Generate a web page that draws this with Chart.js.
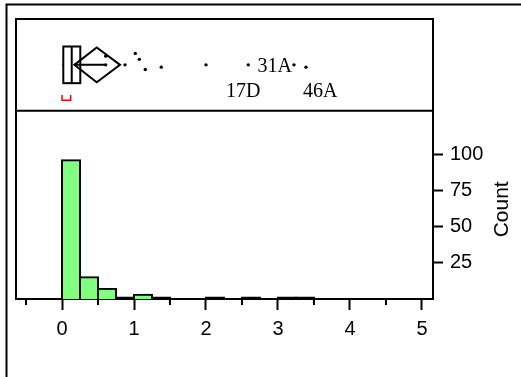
<!DOCTYPE html>
<html>
<head>
<meta charset="utf-8">
<script src="https://cdn.jsdelivr.net/npm/chart.js@4.4.0/dist/chart.umd.min.js"></script>
<style>
  body { margin: 0; background: #fff; }
  canvas { display: block; }
</style>
</head>
<body>
<canvas id="distChart" width="521" height="377"></canvas>
<script>
// histogram: lower edge of each bin (width 0.25) and its count
var binStarts = [0, 0.25, 0.5, 0.75, 1, 1.25, 1.5, 1.75, 2, 2.25, 2.5, 2.75, 3, 3.25];
var binCounts = [96, 15, 7, 1, 3, 1, 0, 0, 1, 0, 1, 0, 1, 1];
var binWidth = 0.25;

// outlier box plot summary
var boxStats = { min: 0.004, q1: 0.018, median: 0.135, q3: 0.254, whiskerHi: 0.607 };
var meanDiamond = { lo: 0.171, mean: 0.482, hi: 0.806 };
var shortestHalf = [0, 0.12];

// single points beyond the box, vertical jitter, row labels
var pointValues = [0.607, 0.607, 0.875, 1.018, 1.074, 1.157, 1.379, 2.0, 2.587, 3.222, 3.389];
var pointJitter = [0.19, 0, 0, 0.25, 0.12, -0.1, -0.05, 0, 0, 0, -0.05];
var pointLabels = ['', '', '', '', '', '', '', '', '17D', '31A', '46A'];

var xTicks = [0, 1, 2, 3, 4, 5];
var xMinorTicks = [-0.5, 0.5, 1.5, 2.5, 3.5, 4.5];
var countTicks = [25, 50, 75, 100];

//////////// label placement next to its point: [align, dx, dy]
var labelPlace = { '17D': ['center', -5, 32.5], '31A': ['right', -2, 7.5], '46A': ['left', -3, 30] };

var jmpDecor = {
  id: 'jmpDecor',
  afterDatasetsDraw: function (chart) {
    var ctx = chart.ctx, a = chart.chartArea;
    var xs = chart.scales.x, yb = chart.scales.yb, yc = chart.scales.y;
    var px = function (v) { return xs.getPixelForValue(v); };
    var py = function (v) { return yb.getPixelForValue(v); };
    ctx.save();
    ctx.strokeStyle = '#000';
    ctx.lineWidth = 2;

    // outer frame
    ctx.beginPath();
    ctx.moveTo(6.5, chart.height); ctx.lineTo(6.5, 4.5); ctx.lineTo(chart.width, 4.5);
    ctx.stroke();

    // plot frame + divider
    ctx.beginPath();
    ctx.moveTo(a.left, a.bottom); ctx.lineTo(a.left, a.top); ctx.lineTo(a.right, a.top);
    ctx.moveTo(a.left, py(-1)); ctx.lineTo(a.right, py(-1));
    ctx.stroke();

    // minor ticks
    ctx.beginPath();
    xMinorTicks.forEach(function (v) {
      ctx.moveTo(px(v), a.bottom); ctx.lineTo(px(v), a.bottom + 6);
    });
    ctx.stroke();

    // box
    ctx.strokeRect(px(boxStats.q1), py(0.4), px(boxStats.q3) - px(boxStats.q1), py(-0.4) - py(0.4));
    ctx.beginPath();
    ctx.moveTo(px(boxStats.median), py(0.4)); ctx.lineTo(px(boxStats.median), py(-0.4));
    ctx.moveTo(px(boxStats.min), py(0)); ctx.lineTo(px(boxStats.q1), py(0));
    ctx.moveTo(px(meanDiamond.lo), py(0)); ctx.lineTo(px(boxStats.whiskerHi), py(0));
    ctx.stroke();

    // mean diamond
    ctx.beginPath();
    ctx.moveTo(px(meanDiamond.lo), py(0));
    ctx.lineTo(px(meanDiamond.mean), py(0.38));
    ctx.lineTo(px(meanDiamond.hi), py(0));
    ctx.lineTo(px(meanDiamond.mean), py(-0.38));
    ctx.closePath();
    ctx.stroke();

    // shortest half bracket
    ctx.strokeStyle = '#ff0000';
    ctx.lineWidth = 1.5;
    ctx.beginPath();
    ctx.moveTo(px(shortestHalf[0]), py(-0.66));
    ctx.lineTo(px(shortestHalf[0]), py(-0.77));
    ctx.lineTo(px(shortestHalf[1]), py(-0.77));
    ctx.lineTo(px(shortestHalf[1]), py(-0.66));
    ctx.stroke();

    // row labels
    ctx.fillStyle = '#000';
    ctx.font = '20px "Liberation Serif"';
    ctx.textBaseline = 'alphabetic';
    pointLabels.forEach(function (lab, i) {
      if (!lab) return;
      var p = labelPlace[lab];
      ctx.textAlign = p[0];
      ctx.fillText(lab, px(pointValues[i]) + p[1], py(pointJitter[i]) + p[2]);
    });

    // axis title, reads bottom to top
    ctx.font = '21px "Liberation Sans"';
    ctx.textAlign = 'center';
    ctx.textBaseline = 'middle';
    ctx.translate(yc.right - 18.5, yc.getPixelForValue(62));
    ctx.rotate(-Math.PI / 2);
    ctx.fillText('Count', 0, 0);
    ctx.restore();
  }
};

var tickFont = { family: 'Liberation Sans', size: 20 };

new Chart('distChart', {
  type: 'bar',
  data: {
    datasets: [{
      type: 'bar',
      data: binStarts.map(function (s, i) { return { x: s + binWidth / 2, y: binCounts[i] || null }; }),
      // one-count bins are thinner than their outline, so they show as a black line
      backgroundColor: function (c) { return c.raw && c.raw.y <= 1 ? '#000' : '#80ff80'; },
      borderColor: '#000',
      borderWidth: 2,
      inflateAmount: 1,
      barPercentage: 1,
      categoryPercentage: 1,
      xAxisID: 'x',
      yAxisID: 'y'
    }, {
      type: 'scatter',
      data: pointValues.map(function (v, i) { return { x: v, y: pointJitter[i] }; }),
      pointRadius: 1.7,
      pointBorderWidth: 0,
      backgroundColor: '#000',
      xAxisID: 'x',
      yAxisID: 'yb'
    }]
  },
  options: {
    responsive: false,
    animation: false,
    devicePixelRatio: 1,
    layout: { padding: { left: 16, top: 15, right: 0, bottom: 0 } },
    plugins: { legend: { display: false }, tooltip: { enabled: false } },
    scales: {
      x: {
        type: 'linear', position: 'bottom', min: -0.639, max: 5.153, offset: false,
        afterBuildTicks: function (s) { s.ticks = xTicks.map(function (v) { return { value: v }; }); },
        afterFit: function (s) { s.height = 78; },
        grid: { display: true, drawOnChartArea: false, drawTicks: true, tickLength: 11, tickWidth: 2, tickColor: '#000', offset: false },
        border: { display: true, color: '#000', width: 2 },
        ticks: { color: '#000', font: tickFont, padding: 7, maxRotation: 0, autoSkip: false }
      },
      y: {
        type: 'linear', position: 'right', min: 0, max: 193.6,
        afterBuildTicks: function (s) { s.ticks = countTicks.map(function (v) { return { value: v }; }); },
        afterFit: function (s) { s.width = 88; },
        grid: { display: true, drawOnChartArea: false, drawTicks: true, tickLength: 10, tickWidth: 2, tickColor: '#000' },
        border: { display: true, color: '#000', width: 2 },
        ticks: { color: '#000', font: tickFont, padding: 7, autoSkip: false }
      },
      yb: { type: 'linear', display: false, min: -5.108, max: 1 }
    }
  },
  plugins: [jmpDecor]
});
</script>
</body>
</html>
